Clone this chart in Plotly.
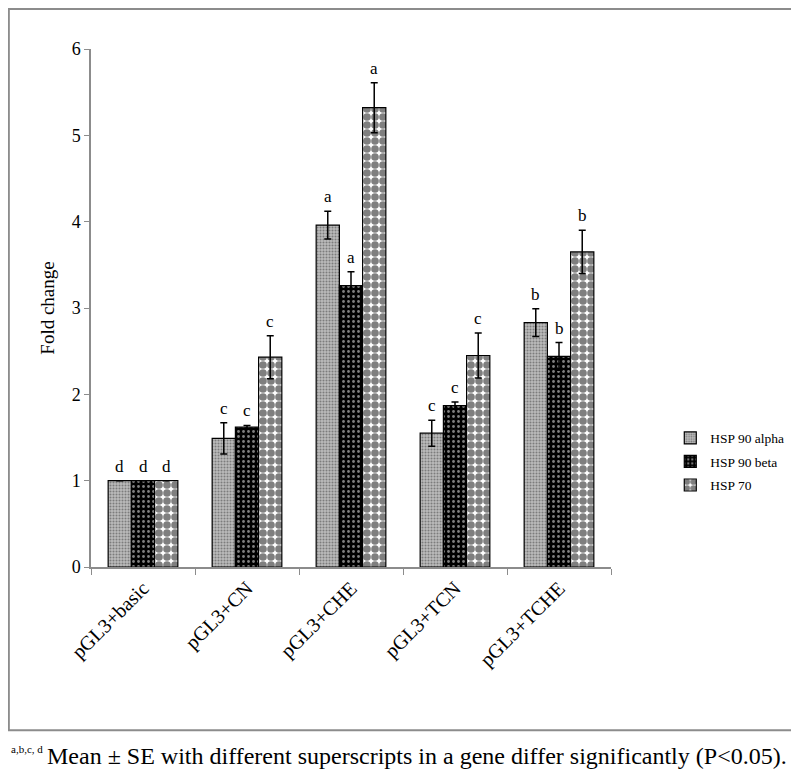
import plotly.graph_objects as go

categories = ["pGL3+basic", "pGL3+CN", "pGL3+CHE", "pGL3+TCN", "pGL3+TCHE"]
series_names = ["HSP 90 alpha", "HSP 90 beta", "HSP 70"]
alpha_mean = [1.0, 1.49, 3.96, 1.55, 2.83]
alpha_se = [0.0, 0.18, 0.16, 0.15, 0.16]
beta_mean = [1.0, 1.62, 3.26, 1.87, 2.44]
beta_se = [0.0, 0.02, 0.16, 0.04, 0.16]
hsp70_mean = [1.0, 2.43, 5.32, 2.45, 3.65]
hsp70_se = [0.0, 0.25, 0.29, 0.26, 0.25]
alpha_letters = ["d", "c", "a", "c", "b"]
beta_letters = ["d", "c", "a", "c", "b"]
hsp70_letters = ["d", "c", "a", "c", "b"]
y_ticks = [0, 1, 2, 3, 4, 5, 6]
footnote_sup = "a,b,c, d"
footnote_text = "Mean ± SE with different superscripts in a gene differ significantly (P<0.05)."

FONT = "Liberation Serif"

means = [alpha_mean, beta_mean, hsp70_mean]
ses = [alpha_se, beta_se, hsp70_se]
letters = [alpha_letters, beta_letters, hsp70_letters]
patterns = [
    dict(shape=".", bgcolor="#bdbdbd", fgcolor="#3c3c3c", size=3, solidity=0.4),
    dict(shape=".", bgcolor="black", fgcolor="white", size=5, solidity=0.25),
    dict(shape=".", bgcolor="white", fgcolor="black", size=8, solidity=0.72),
]

fig = go.Figure()
for i in range(3):
    fig.add_trace(go.Bar(
        name=series_names[i], x=categories, y=means[i], legendgroup=series_names[i],
        marker=dict(color="white", line=dict(color="black", width=1.2), pattern=patterns[i]),
        error_y=dict(type="data", array=ses[i], visible=True, color="black", thickness=1.5, width=3.5),
    ))

bargap = 0.33
plot_w = 520
cat_w = plot_w / len(categories)
bar_w = cat_w * (1 - bargap) / 3
annotations = []
for i in range(3):
    shift = (i - 1) * bar_w
    for j, c in enumerate(categories):
        annotations.append(dict(
            x=c, y=means[i][j] + ses[i][j], xref="x", yref="y", text=letters[i][j],
            showarrow=False, xshift=shift, yshift=3, yanchor="bottom",
            font=dict(family=FONT, size=17, color="black"),
        ))

annotations.append(dict(
    xref="paper", yref="paper", x=-0.158, y=-0.351, xanchor="left", yanchor="middle",
    showarrow=False, text=footnote_sup,
    font=dict(family=FONT, size=11, color="black"),
))
annotations.append(dict(
    xref="paper", yref="paper", x=-0.089, y=-0.3655, xanchor="left", yanchor="middle",
    showarrow=False, text=footnote_text,
    font=dict(family=FONT, size=24, color="black"),
))

fig.update_layout(
    width=799, height=776,
    margin=dict(l=83, r=196, t=41, b=216.5, autoexpand=False),
    paper_bgcolor="white", plot_bgcolor="white",
    barmode="group", bargap=bargap, bargroupgap=0,
    font=dict(family=FONT, size=16, color="black"),
    showlegend=True,
    legend=dict(x=1.114, y=0.2787, xanchor="left", yanchor="top",
                font=dict(family=FONT, size=13.5, color="black"),
                bgcolor="rgba(0,0,0,0)", tracegroupgap=3, itemwidth=30),
    annotations=annotations,
    shapes=[dict(type="rect", xref="paper", yref="paper",
                 x0=-0.158, x1=1.3577, y0=-0.3153, y1=1.0772,
                 line=dict(color="#8c8c8c", width=2), fillcolor="rgba(0,0,0,0)", layer="below")],
)
fig.update_yaxes(range=[0, 6], tickvals=y_ticks, showgrid=False, zeroline=False,
                 showline=True, linecolor="#8c8c8c", linewidth=1.5,
                 ticks="outside", ticklen=5, tickcolor="#8c8c8c",
                 tickfont=dict(family=FONT, size=18),
                 title=dict(text="Fold change", font=dict(family=FONT, size=19), standoff=12))
fig.update_xaxes(showgrid=False, showline=True, linecolor="#8c8c8c", linewidth=1.5,
                 ticks="outside", ticklen=6, tickcolor="#8c8c8c", tickson="boundaries",
                 tickangle=-45, tickfont=dict(family=FONT, size=20))

fig.write_html("out.html")
